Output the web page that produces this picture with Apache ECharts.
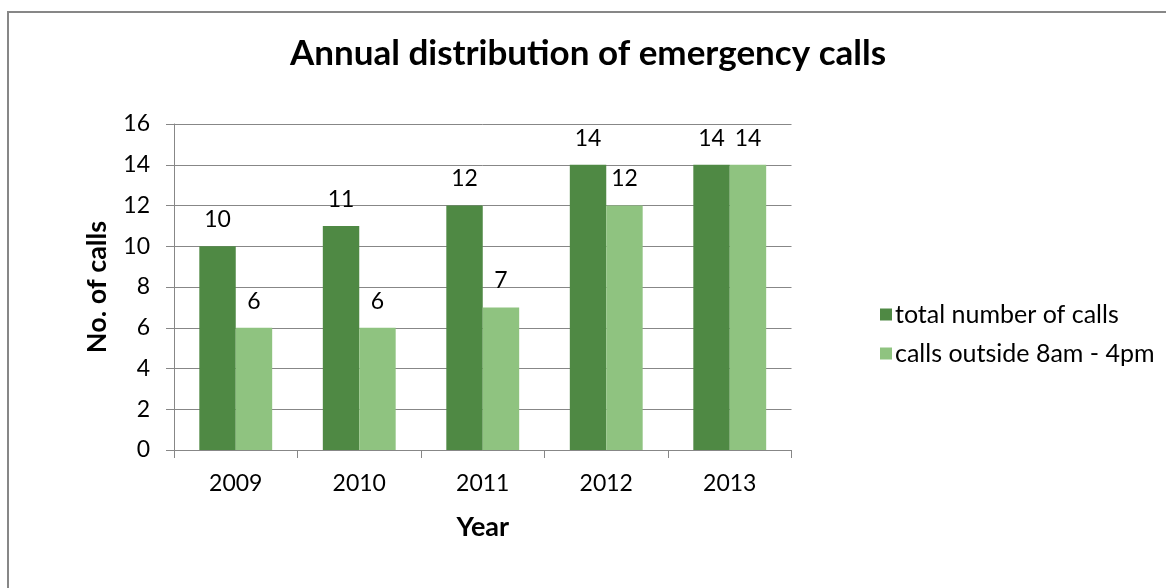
<!DOCTYPE html>
<html>
<head>
<meta charset="utf-8">
<script src="https://cdn.jsdelivr.net/npm/echarts@6/dist/echarts.min.js"></script>
<style>
html,body{margin:0;padding:0;background:#fff;}
#chart{width:1166px;height:588px;}
</style>
</head>
<body>
<div id="chart"></div>
<script>
const categories = ['2009', '2010', '2011', '2012', '2013'];
const totalCalls = [10, 11, 12, 14, 14];
const outsideCalls = [6, 6, 7, 12, 14];
const yTicks = [0, 2, 4, 6, 8, 10, 12, 14, 16];

const FONT = 'Lato';
const chart = echarts.init(document.getElementById('chart'));
const labelStyle = {show: true, position: 'top', distance: 15, color: '#000', fontFamily: FONT, fontSize: 23};
chart.setOption({
  backgroundColor: '#fff',
  animation: false,
  graphic: [{
    type: 'rect', silent: true,
    shape: {x: 8, y: 12, width: 1200, height: 700},
    style: {fill: 'none', stroke: '#878787', lineWidth: 2}
  }],
  title: {
    text: 'Annual distribution of emergency calls',
    left: 583, top: 31, textAlign: 'center',
    textStyle: {fontFamily: FONT, fontWeight: 'bold', fontSize: 35, color: '#000'}
  },
  legend: {
    orient: 'vertical', left: 875, top: 297, itemGap: 14,
    itemWidth: 12, itemHeight: 12, icon: 'rect',
    textStyle: {fontFamily: FONT, fontSize: 25, color: '#000', padding: [0,0,0,-2]},
    data: ['total number of calls', 'calls outside 8am - 4pm']
  },
  grid: {left: 174, right: 374.5, top: 124, bottom: 138, containLabel: false},
  xAxis: {
    type: 'category', data: categories,
    name: 'Year', nameLocation: 'middle', nameGap: 64,
    nameTextStyle: {fontFamily: FONT, fontWeight: 'bold', fontSize: 27, color: '#000'},
    axisLine: {lineStyle: {color: '#878787', width: 1}},
    axisTick: {show: true, length: 8, alignWithLabel: false, lineStyle: {color: '#878787'}},
    axisLabel: {fontFamily: FONT, fontSize: 23, color: '#000', margin: 22}
  },
  yAxis: {
    type: 'value', min: 0, max: 16, interval: 2,
    name: 'No. of calls', nameLocation: 'middle', nameGap: 63, nameRotate: 90,
    nameTextStyle: {fontFamily: FONT, fontWeight: 'bold', fontSize: 27, color: '#000'},
    axisLine: {show: true, lineStyle: {color: '#878787', width: 1}},
    axisTick: {show: true, length: 8, lineStyle: {color: '#878787'}},
    axisLabel: {fontFamily: FONT, fontSize: 23, color: '#000', margin: 24,
      formatter: v => yTicks.includes(v) ? String(v) : ''},
    splitLine: {show: true, lineStyle: {color: '#878787', width: 1}}
  },
  series: [
    {name: 'total number of calls', type: 'bar', data: totalCalls, barGap: '0%', barCategoryGap: '41%',
     itemStyle: {color: '#4F8944'}, label: labelStyle},
    {name: 'calls outside 8am - 4pm', type: 'bar', data: outsideCalls, barGap: '0%', barCategoryGap: '41%',
     itemStyle: {color: '#8FC380'}, label: labelStyle}
  ]
});
</script>
</body>
</html>
